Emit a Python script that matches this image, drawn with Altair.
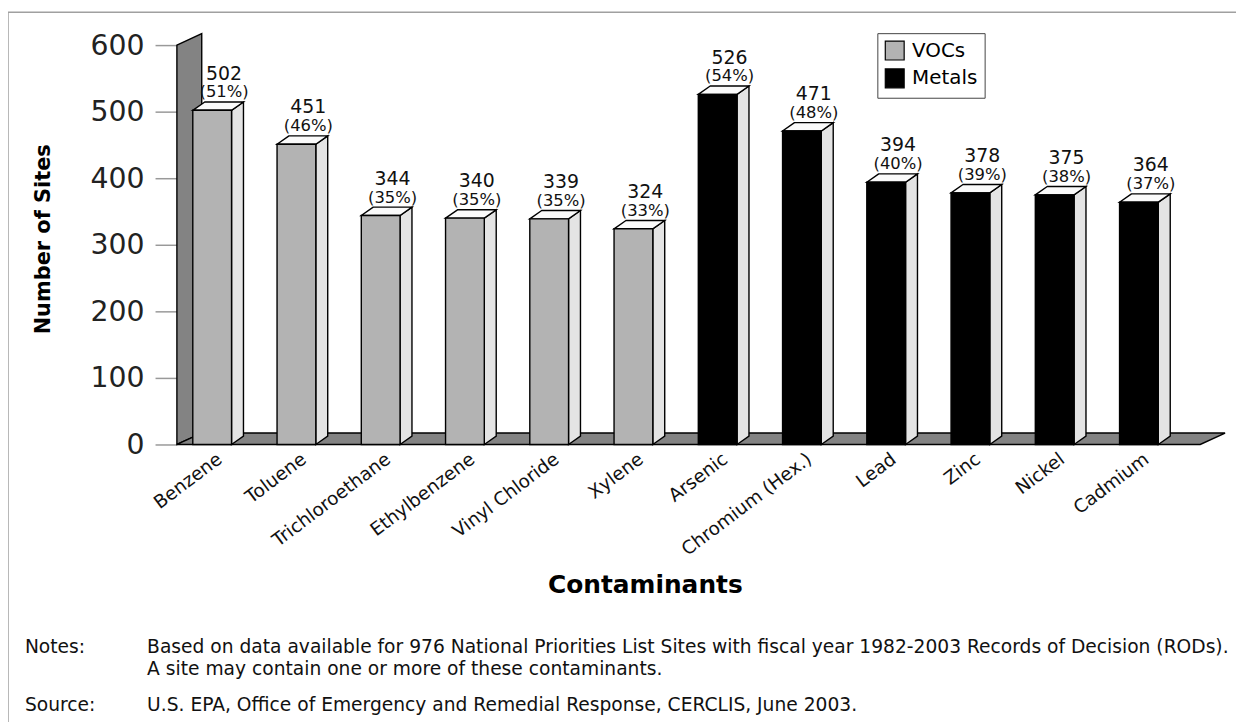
import json
import altair as alt
import pandas as pd

# ---------------- data ----------------
categories = ["Benzene", "Toluene", "Trichloroethane", "Ethylbenzene", "Vinyl Chloride", "Xylene",
              "Arsenic", "Chromium (Hex.)", "Lead", "Zinc", "Nickel", "Cadmium"]
groups = ["VOCs"] * 6 + ["Metals"] * 6
sites = [502, 451, 344, 340, 339, 324, 526, 471, 394, 378, 375, 364]
percents = ["(51%)", "(46%)", "(35%)", "(35%)", "(35%)", "(33%)",
            "(54%)", "(48%)", "(40%)", "(39%)", "(38%)", "(37%)"]
y_ticks = [0, 100, 200, 300, 400, 500, 600]
legend_order = ["VOCs", "Metals"]
legend_colors = ["#b3b3b3", "#000000"]

notes_label = "Notes:"
notes_lines = ["Based on data available for 976 National Priorities List Sites with fiscal year 1982-2003 Records of Decision (RODs).",
               "A site may contain one or more of these contaminants."]
source_label = "Source:"
source_line = "U.S. EPA, Office of Emergency and Remedial Response, CERCLIS, June 2003."

# ---------------- geometry (styling) ----------------
W, H = 1054, 402
UNIT = 84.8                       # px per category slot
PX_Y = 600.0 / H                  # value units per px
C0 = 213.5 - 178                  # px from plot left to first bar centre
DOM = [-C0 / UNIT, (W - C0) / UNIT]
HALF = 19.5 / UNIT
BDX, BDY = 12 / UNIT, 8.4 * PX_Y
WDX, WDY = 25 / UNIT, 11.5 * PX_Y
LEFT = DOM[0]
FLOOR_R = (1208 - 213.5) / UNIT
LBL_OFF = 7 / UNIT
FONT = "DejaVu Sans"

XS = alt.Scale(domain=DOM, nice=False, zero=False)
YS = alt.Scale(domain=[0, 600], nice=False)
X_AXIS = alt.Axis(values=[i + LBL_OFF for i in range(len(categories))],
                  labelExpr=json.dumps(categories) + "[floor(datum.value)]",
                  labelAngle=-37, labelAlign="right", labelBaseline="middle",
                  labelPadding=12, ticks=False, tickSize=0, domain=False, grid=False,
                  labelFontSize=18.5, labelFont=FONT, labelColor="#111",
                  labelOverlap=False, labelBound=False, labelFlush=False,
                  title="Contaminants", titleFontSize=25, titleFont=FONT, titleFontWeight="bold",
                  titleColor="#000", titleX=471, titleY=149, titleBaseline="alphabetic")
Y_AXIS = alt.Axis(values=y_ticks, tickSize=22, tickColor="#999", tickWidth=1.5,
                  labelPadding=11, labelFontSize=28.5, labelFont=FONT, labelColor="#222",
                  domain=False, grid=False,
                  title="Number of Sites", titleFontSize=21, titleFont=FONT, titleFontWeight="bold",
                  titleColor="#000", titleAngle=-90, titleX=-128, titleY=195,
                  titleAlign="center", titleBaseline="alphabetic")

def X(f):
    return alt.X(f, type="quantitative", scale=XS, axis=X_AXIS)

def Y(f):
    return alt.Y(f, type="quantitative", scale=YS, axis=Y_AXIS)

# bars table
bars = pd.DataFrame({"name": categories, "group": groups, "v": sites, "pct": percents})
bars["i"] = range(len(categories))
bars["xl"] = bars["i"] - HALF
bars["xr"] = bars["i"] + HALF
bars["base"] = 0
bars["lx"] = bars["i"] + BDX

side_rows, top_rows = [], []
for _, r in bars.iterrows():
    side_rows.append({"name": r["name"], "x": r["xr"], "y": r["v"], "y2": 0})
    side_rows.append({"name": r["name"], "x": r["xr"] + BDX, "y": r["v"] + BDY, "y2": BDY})
    top_rows.append({"name": r["name"], "y": r["v"], "x": r["xl"], "x2": r["xr"]})
    top_rows.append({"name": r["name"], "y": r["v"] + BDY, "x": r["xl"] + BDX, "x2": r["xr"] + BDX})
side = pd.DataFrame(side_rows)
top = pd.DataFrame(top_rows)

wall = pd.DataFrame({"x": [LEFT, LEFT + WDX], "y": [600, 600 + WDY], "y2": [0, WDY]})
floor = pd.DataFrame({"y": [0, WDY], "x": [LEFT, LEFT + WDX], "x2": [FLOOR_R, FLOOR_R + WDX]})

STROKE = dict(stroke="black", strokeWidth=1.4)

wall_l = alt.Chart(wall).mark_area(color="#838383", interpolate="linear", **STROKE).encode(
    x=X("x"), y=Y("y"), y2="y2")
floor_l = alt.Chart(floor).mark_area(color="#838383", orient="horizontal", interpolate="linear", **STROKE).encode(
    y=Y("y"), x=X("x"), x2="x2")
side_l = alt.Chart(side).mark_area(color="#e4e4e4", interpolate="linear", **STROKE).encode(
    x=X("x"), y=Y("y"), y2="y2", detail="name:N")
top_l = alt.Chart(top).mark_area(color="#fafafa", orient="horizontal", interpolate="linear", **STROKE).encode(
    y=Y("y"), x=X("x"), x2="x2", detail="name:N")
front_l = alt.Chart(bars).mark_rect(**STROKE).encode(
    x=X("xl"), x2="xr", y=Y("v"), y2="base",
    color=alt.Color("group:N", scale=alt.Scale(domain=legend_order, range=legend_colors),
                    legend=alt.Legend(title=None, orient="none", legendX=705, legendY=-12,
                                      symbolType="square", symbolSize=361, symbolStrokeColor="black",
                                      symbolStrokeWidth=1.2, labelFontSize=20, labelFont=FONT,
                                      labelColor="#000", padding=7, rowPadding=3, labelOffset=7,
                                      strokeColor="#444", fillColor="white")))
val_l = alt.Chart(bars).mark_text(font=FONT, fontSize=19, color="#111", baseline="alphabetic", dy=-31).encode(
    x=X("lx"), y=Y("v"), text="v:Q")
pct_l = alt.Chart(bars).mark_text(font=FONT, fontSize=16.5, color="#111", baseline="alphabetic", dy=-13).encode(
    x=X("lx"), y=Y("v"), text="pct:N")

one = alt.Data(values=[{"k": 1}])
def note(txt, px, py):
    return alt.Chart(one).mark_text(font=FONT, fontSize=18.8, color="#111", align="left",
                                    baseline="alphabetic").encode(
        x=alt.value(px - 178), y=alt.value(py - 43), text=alt.value(txt))

border_top = alt.Chart(one).mark_rule(color="#a0a0a0", strokeWidth=1.5).encode(
    x=alt.value(-170), x2=alt.value(1070), y=alt.value(-33))
border_left = alt.Chart(one).mark_rule(color="#a0a0a0", strokeWidth=1.5).encode(
    x=alt.value(-170), y=alt.value(-33), y2=alt.value(700))

chart = alt.layer(
    border_top, border_left,
    wall_l, floor_l, side_l, top_l, front_l, val_l, pct_l,
    note(notes_label, 25, 655), note(notes_lines[0], 148, 655), note(notes_lines[1], 148, 677),
    note(source_label, 25, 713), note(source_line, 148, 713),
).properties(
    width=W, height=H,
    padding={"left": 170, "top": 35, "right": 12, "bottom": 277},
    autosize=alt.AutoSizeParams(type="none"),
).configure(background="white", view=alt.ViewConfig(stroke=None))

chart.save("out.html", embed_options={"renderer": "svg", "actions": False})
